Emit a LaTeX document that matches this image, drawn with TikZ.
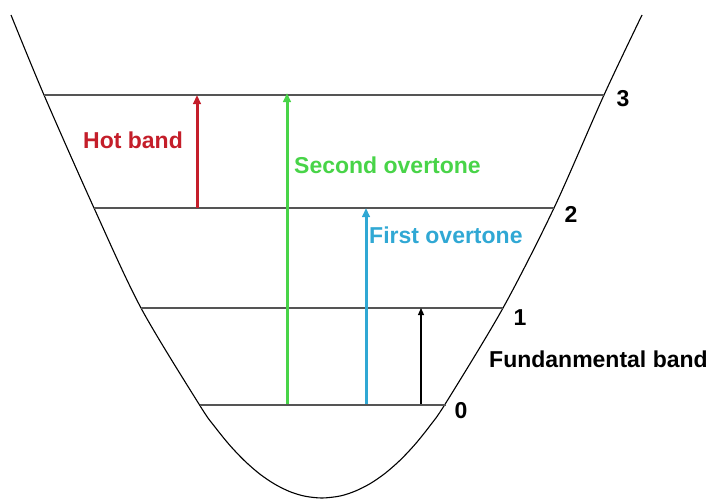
\documentclass[tikz,border=0pt]{standalone}
\usepackage{fontspec}
\setmainfont{Liberation Sans}
\usetikzlibrary{arrows.meta}
\definecolor{hotred}{RGB}{196,30,42}
\definecolor{ovgreen}{RGB}{72,212,72}
\definecolor{ovblue}{RGB}{48,168,212}
\definecolor{levelgray}{RGB}{85,85,85}
\tikzset{
  level/.style={draw=levelgray,line width=1.6pt},
  well/.style={draw=black,line width=1.1pt},
  thickarrow/.style={line width=3pt,-{Triangle[length=9pt,width=7.5pt]}},
  thinarrow/.style={line width=1.2pt,-{Triangle[length=7pt,width=6pt]}},
  lbl/.style={font=\fontsize{23}{26}\selectfont\bfseries,inner sep=0pt,anchor=base west},
  num/.style={font=\fontsize{23}{26}\selectfont\bfseries,inner sep=0pt,anchor=center}
}
\begin{document}
\begin{tikzpicture}[x=1pt,y=-1pt]
\useasboundingbox (0,0) rectangle (717,498);
% potential well
\draw[well] plot[smooth,tension=0.5] coordinates {(11,15) (44,95) (94,208) (141,308) (200,405.7) (215,427) (230,445.5) (245,461.2) (260,474.2) (275,484.3) (290,491.7) (305,496.2) (322,498) (340,496) (355,491.2) (370,483.7) (385,473.4) (400,460.3) (415,444.4) (430,425.7) (446,402.7) (503,308) (554,208) (604,95) (642,15)};
% levels
\coordinate (L3a) at (44,95);  \coordinate (L3b) at (604,95);
\coordinate (L2a) at (94,208); \coordinate (L2b) at (554,208);
\coordinate (L1a) at (141,308);\coordinate (L1b) at (503,308);
\coordinate (L0a) at (200,405);\coordinate (L0b) at (446,405);
\draw[level] (L3a) -- (L3b);
\draw[level] (L2a) -- (L2b);
\draw[level] (L1a) -- (L1b);
\draw[level] (L0a) -- (L0b);
% level numbers
\node[num] (n3) at (623,99) {3};
\node[num] (n2) at (571,214) {2};
\node[num] (n1) at (520,318) {1};
\node[num] (n0) at (461,411) {0};
% arrow endpoints
\coordinate (r0) at (197,208); \coordinate (r1) at (197,95);
\coordinate (g0) at (287,404); \coordinate (g1) at (287,93);
\coordinate (b0) at (366,404); \coordinate (b1) at (366,208);
\coordinate (k0) at (421,404); \coordinate (k1) at (421,308);
\draw[thickarrow,hotred] (r0) -- (r1);
\draw[thickarrow,ovgreen] (g0) -- (g1);
\draw[thickarrow,ovblue] (b0) -- (b1);
\draw[thinarrow,black] (k0) -- (k1);
% labels
\node[lbl,text=hotred] (hot) at (83,148) {Hot band};
\node[lbl,text=ovgreen] (sec) at (294,173) {Second overtone};
\node[lbl,text=ovblue] (fir) at (369,243) {First overtone};
\node[lbl,text=black] (fun) at (489,367) {Fundanmental band};
\end{tikzpicture}
\end{document}
